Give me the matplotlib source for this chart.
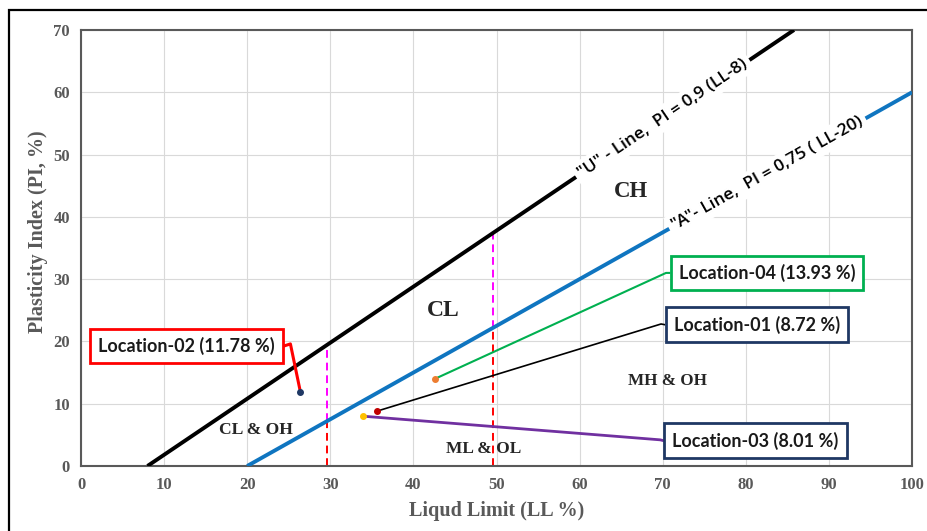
import numpy as np
import matplotlib
matplotlib.use("Agg")
import matplotlib.pyplot as plt
from matplotlib.patches import Rectangle
from matplotlib.transforms import offset_copy

# ---------------- data ----------------
x_ticks = [0, 10, 20, 30, 40, 50, 60, 70, 80, 90, 100]
y_ticks = [0, 10, 20, 30, 40, 50, 60, 70]

u_line_ll = [8, 85.8]            # U-line: PI = 0.9 (LL - 8)
u_line_pi = [0.0, 70.0]
a_line_ll = [20, 100]            # A-line: PI = 0.75 (LL - 20)
a_line_pi = [0.0, 60.0]

boundary_ll = [29.6, 49.6]       # dashed vertical boundaries
boundary_a_pi = [7.2, 22.2]      # PI where they meet the A-line
boundary_u_pi = [19.4, 37.4]     # PI where they meet the U-line

loc_names = ["Location-02 (11.78 %)", "Location-01 (8.72 %)",
             "Location-04 (13.93 %)", "Location-03 (8.01 %)"]
loc_ll = [26.4, 35.6, 42.6, 33.9]
loc_pi = [11.9, 8.8, 14.0, 8.0]
loc_marker_colors = ["#1F3864", "#C00000", "#ED7D31", "#FFC000"]
loc_line_colors = ["#FF0000", "#000000", "#00B050", "#7030A0"]
loc_line_widths = [2.2, 1.2, 1.5, 2.0]
loc_box_colors = ["#FF0000", "#1F3864", "#00B050", "#1F3864"]

zone_names = ["CL", "CH", "MH & OH", "ML & OL", "CL & OH"]
zone_ll = [43.6, 66.2, 70.6, 48.5, 21.0]
zone_pi = [24.9, 44.1, 13.6, 2.7, 5.8]
zone_sizes = [17, 16.5, 12.3, 12.5, 12.6]

# label / elbow layout (data coords): box edge x, box centre y, elbow
box_edge_x = [24.5, 70.2, 70.8, 70.0]
box_side = ["right", "left", "left", "left"]
box_y = [19.3, 22.7, 31.0, 4.1]
elbow_xy = [(25.2, 19.6), (69.8, 22.8), (70.4, 31.0), (69.7, 4.2)]

# ---------------- figure ----------------
fig = plt.figure(figsize=(9.27, 5.31), dpi=100)
ax = fig.add_axes([81 / 927, 1 - 466 / 531, (912 - 81) / 927, (466 - 30) / 531])
ax.set_xlim(0, 100)
ax.set_ylim(0, 70)
ax.set_xticks(x_ticks)
ax.set_yticks(y_ticks)
ax.grid(True, color="#D9D9D9", lw=0.8)
ax.set_axisbelow(True)
ax.tick_params(length=0, pad=8, labelcolor="#595959")
for lab in ax.get_xticklabels() + ax.get_yticklabels():
    lab.set_fontfamily("Liberation Serif")
    lab.set_fontweight("bold")
    lab.set_fontsize(12)
for sp in ax.spines.values():
    sp.set_color("#595959")
    sp.set_linewidth(1.5)

ax.set_xlabel("Liqud Limit (LL %)", fontfamily="Liberation Serif", fontweight="bold",
              fontsize=14.5, color="#595959", labelpad=6)
ax.set_ylabel("Plasticity Index (PI, %)", fontfamily="Liberation Serif", fontweight="bold",
              fontsize=14.5, color="#595959")
ax.yaxis.set_label_coords(-0.04, 0.537)

# A and U lines
ax.plot(u_line_ll, u_line_pi, color="black", lw=2.8, solid_capstyle="butt", zorder=3)
ax.plot(a_line_ll, a_line_pi, color="#0F75C0", lw=2.8, solid_capstyle="butt", zorder=3)

# dashed boundaries
for ll, pa, pu in zip(boundary_ll, boundary_a_pi, boundary_u_pi):
    ax.plot([ll, ll], [0, pa], color="#FF0000", lw=1.4, ls=(0, (4, 2.5)), zorder=2)
    ax.plot([ll, ll], [pa, pu], color="#FF00FF", lw=1.4, ls=(0, (4, 2.5)), zorder=2)

# line labels
ax.text(70.0, 0.9 * (70.0 - 8), '"U" - Line,  PI = 0,9 (LL-8)', fontfamily="Open Sans",
        fontweight="semibold", fontsize=12.5, ha="center", va="center",
        rotation=np.degrees(np.arctan(0.9)), transform_rotates_text=True,
        rotation_mode="anchor", zorder=4,
        bbox=dict(facecolor="white", edgecolor="none", pad=3))
ax.text(82.6, 0.75 * (82.6 - 20), '"A"- Line,  PI = 0,75 ( LL-20)', fontfamily="Open Sans",
        fontweight="semibold", fontsize=12.5, ha="center", va="center",
        rotation=np.degrees(np.arctan(0.75)), transform_rotates_text=True,
        rotation_mode="anchor", zorder=4,
        bbox=dict(facecolor="white", edgecolor="none", pad=3))

# zone labels
for name, x, y, s in zip(zone_names, zone_ll, zone_pi, zone_sizes):
    ax.text(x, y, name, fontfamily="Liberation Serif", fontweight="bold", fontsize=s,
            ha="center", va="center", color="#262626", zorder=4)

# locations
fs = 13
pad_pts = 0.45 * fs + 1.0
for i in range(len(loc_names)):
    px, py = loc_ll[i], loc_pi[i]
    ex, ey = elbow_xy[i]
    ax.plot([px, ex, box_edge_x[i]], [py, ey, box_y[i]], color=loc_line_colors[i],
            lw=loc_line_widths[i], zorder=5, clip_on=False)
    ax.plot(px, py, "o", ms=4, color=loc_marker_colors[i], zorder=6)
    sgn = 1 if box_side[i] == "left" else -1
    trans = offset_copy(ax.transData, fig=fig, x=sgn * pad_pts, y=0, units="points")
    ax.text(box_edge_x[i], box_y[i], loc_names[i], transform=trans,
            fontfamily="Lato", fontweight="bold", fontsize=fs,
            ha=box_side[i], va="center", color="#1a1a1a", zorder=7,
            bbox=dict(facecolor="white", edgecolor=loc_box_colors[i], lw=2,
                      boxstyle="square,pad=0.45"))

# outer frame
fig.add_artist(Rectangle((9 / 927, -0.1), 1.2, 1 - 10 / 531 + 0.1, transform=fig.transFigure,
                         fill=False, edgecolor="black", lw=1.6))

fig.savefig("out.png", dpi=100)
